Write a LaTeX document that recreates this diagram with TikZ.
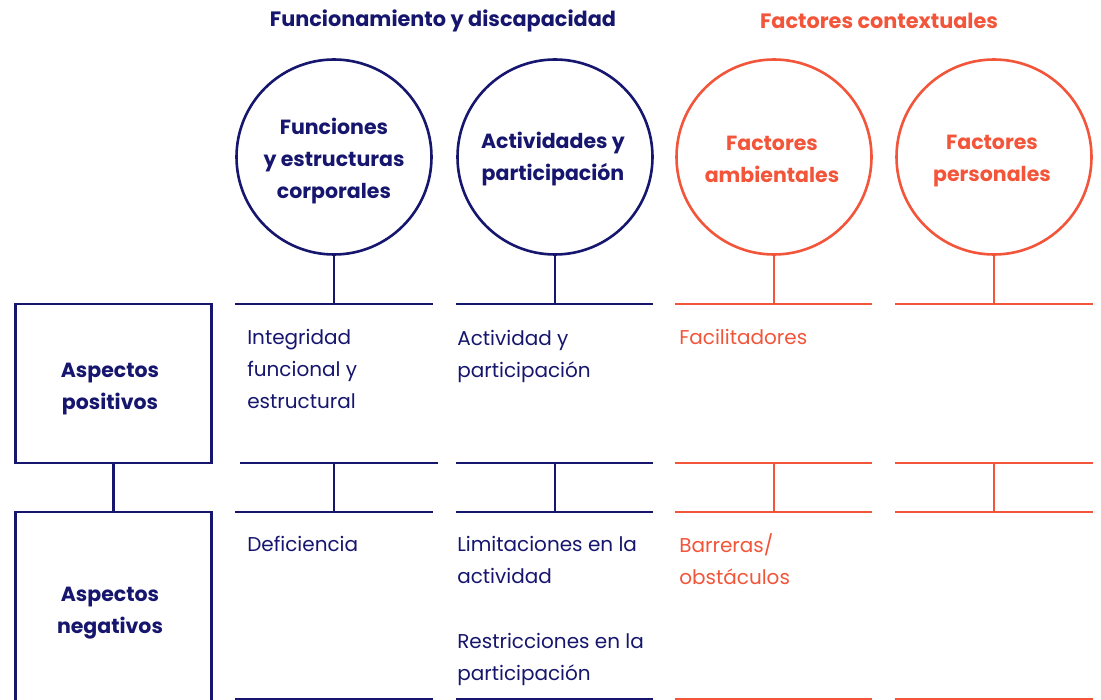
\documentclass[tikz,border=0pt]{standalone}
\usepackage{fontspec}
\setmainfont{Poppins}
\definecolor{navy}{HTML}{16166E}
\definecolor{coral}{HTML}{F2553A}
\begin{document}
\begin{tikzpicture}[x=1pt,y=-1pt,line width=2.6pt,
  circ/.style={circle,draw,minimum size=195pt,inner sep=0pt},
  ctext/.style={align=center,inner sep=0pt,font=\bfseries\fontsize{20.5}{32}\selectfont},
  boxn/.style={rectangle,draw,minimum width=196pt,inner sep=0pt},
  head/.style={font=\bfseries\fontsize{20.8}{24}\selectfont,inner sep=0pt},
  body/.style={anchor=west,align=left,inner sep=0pt,font=\fontsize{20}{32}\selectfont}]
\useasboundingbox (0,0) rectangle (1101,700);
\fill[white] (0,0) rectangle (1101,700);

% headers
\node[head,text=navy] (h1) at (443,21) {Funcionamiento y discapacidad};
\node[head,text=coral] (h2) at (879,21) {Factores contextuales};

% circles
\node[circ,navy] (c1) at (334,157) {};
\node[circ,navy] (c2) at (555,157) {};
\node[circ,coral] (c3) at (774,157) {};
\node[circ,coral] (c4) at (994,157) {};
\node[ctext,text=navy] (c1t) at (334,161) {Funciones\\y estructuras\\corporales};
\node[ctext,text=navy] (c2t) at (553,159) {Actividades y\\participación};
\node[ctext,text=coral] (c3t) at (772,159) {Factores\\ambientales};
\node[ctext,text=coral] (c4t) at (992,161) {Factores\\personales};

% row line coordinates
\foreach \n/\a/\b in {1/235/433,2/456/653,3/675/872,4/895/1093}{
  \coordinate (t\n l) at (\a,304); \coordinate (t\n r) at (\b,304);
  \coordinate (m\n l) at (\a,463); \coordinate (m\n r) at (\b,463);
  \coordinate (n\n l) at (\a,512); \coordinate (n\n r) at (\b,512);
  \coordinate (e\n l) at (\a,699); \coordinate (e\n r) at (\b,699);
}
\coordinate (m1l) at (240,463); \coordinate (m1r) at (438,463);

\foreach \n/\col in {1/navy,2/navy,3/coral,4/coral}{
  \draw[\col] (t\n l) -- (t\n r);
  \draw[\col] (m\n l) -- (m\n r);
  \draw[\col] (n\n l) -- (n\n r);
  \draw[\col] (e\n l) -- (e\n r);
  \draw[\col] (c\n.south) -- (c\n.south |- t\n l);
  \draw[\col] (c\n.south |- m\n r) -- (c\n.south |- n\n l);
}

% row boxes
\node[boxn,navy,minimum height=159pt] (b1) at (113.5,383.5) {};
\node[boxn,navy,minimum height=194pt] (b2) at (113.5,609) {};
\draw[navy] (b1.south) -- (b2.north);
\node[ctext,text=navy] (b1t) at (110,389) {Aspectos\\positivos};
\node[ctext,text=navy] (b2t) at (110,613) {Aspectos\\negativos};

% body texts
\node[body,text=navy] (p1) at (246,369) {Integridad\\funcional y\\estructural};
\node[body,text=navy] (p2) at (456,356) {Actividad y\\participación};
\node[body,text=coral] (p3) at (678,337) {Facilitadores};
\node[body,text=navy] (q1) at (246,544) {Deficiencia};
\node[body,text=navy] (q2) at (456,560) {Limitaciones en la\\actividad};
\node[body,text=navy] (q3) at (456,659) {Restricciones en la\\participación};
\node[body,text=coral] (q4) at (678,559) {Barreras/\\obstáculos};
\end{tikzpicture}
\end{document}
